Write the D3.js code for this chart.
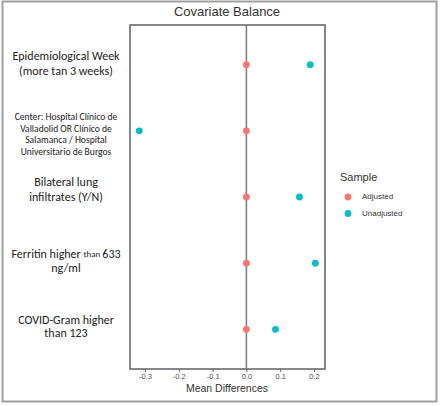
<!DOCTYPE html>
<html><head><meta charset="utf-8">
<script src="https://cdn.jsdelivr.net/npm/d3@7"></script>
<style>body{margin:0;background:#fff}svg{display:block}</style>
</head><body>
<script>
const covariates = ["Epidemiological Week", "Center", "Bilateral lung", "Ferritin", "COVID-Gram"];
const adjusted = [0.0, 0.0, 0.0, 0.0, 0.0];
const unadjusted = [0.189, -0.317, 0.157, 0.204, 0.086];
const xTicks = [-0.3, -0.2, -0.1, 0.0, 0.1, 0.2];
const sampleNames = ["Adjusted", "Unadjusted"];
const sampleColors = ["#F8766D", "#00BFC4"];

const W = 440, H = 406;
const svg = d3.select("body").append("svg").attr("width", W).attr("height", H);

// outer frame
svg.append("rect").attr("x", 2.5).attr("y", 1.5).attr("width", 434).attr("height", 400)
  .attr("fill", "#fff").attr("stroke", "#a0a0a0").attr("stroke-width", 2);

const px0 = 130, px1 = 325, py0 = 25, py1 = 369;
const x = d3.scaleLinear().domain([-0.3, 0.2]).range([145, 314]);
const y = d3.scalePoint().domain(covariates).range([py0, py1]).padding(0.6);

// zero line
svg.append("line").attr("x1", x(0)).attr("x2", x(0)).attr("y1", py0).attr("y2", py1)
  .attr("stroke", "#808080").attr("stroke-width", 1.6);

// panel border
svg.append("rect").attr("x", px0).attr("y", py0).attr("width", px1 - px0).attr("height", py1 - py0)
  .attr("fill", "none").attr("stroke", "#6a6a6a").attr("stroke-width", 1.6);

// x axis
const fmt = d3.format(".1f");
const xAxis = d3.axisBottom(x).tickValues(xTicks).tickSize(3).tickPadding(2)
  .tickFormat(d => fmt(d).replace("\u2212", "-"));
const gx = svg.append("g").attr("transform", `translate(0,${py1})`).call(xAxis);
gx.select(".domain").remove();
gx.selectAll(".tick line").attr("stroke", "#6a6a6a");
gx.selectAll(".tick text").attr("fill", "#4d4d4d").attr("font-family", "Liberation Sans, Arial, sans-serif").attr("font-size", 7.5);

// points
const rows = covariates.map((c, i) => ({c, a: adjusted[i], u: unadjusted[i]}));
svg.selectAll("circle.u").data(rows).join("circle").attr("class", "u")
  .attr("cx", d => x(d.u)).attr("cy", d => y(d.c)).attr("r", 3.4).attr("fill", sampleColors[1]);
svg.selectAll("circle.a").data(rows).join("circle").attr("class", "a")
  .attr("cx", d => x(d.a)).attr("cy", d => y(d.c)).attr("r", 3.4).attr("fill", sampleColors[0]);

// y labels
const lf = "Carlito, Lato, 'Open Sans', sans-serif";
const cx = 66;
function lines(parts, ys, size) {
  parts.forEach((p, i) => {
    const t = svg.append("text").attr("x", cx).attr("y", ys[i]).attr("text-anchor", "middle")
      .attr("dominant-baseline", "middle").attr("font-family", lf).attr("font-size", size).attr("fill", "#222");
    if (Array.isArray(p)) {
      p.forEach(seg => t.append("tspan").attr("font-size", seg[1]).text(seg[0]));
    } else t.text(p);
  });
}
const yc = covariates.map(c => y(c));
lines(["Epidemiological Week", "(more tan 3 weeks)"], [yc[0] - 8, yc[0] + 7], 12);
lines(["Center: Hospital Clínico de", "Valladolid OR Clínico de", "Salamanca / Hospital", "Universitario de Burgos"],
  [yc[1] - 13, yc[1] - 1.5, yc[1] + 10, yc[1] + 21.5], 9.6);
lines(["Bilateral lung", "infiltrates (Y/N)"], [yc[2] - 14, yc[2] + 1], 12);
lines([[["Ferritin higher ", 12], ["than ", 9], ["633", 12]], "ng/ml"], [yc[3] - 8, yc[3] + 6], 12);
lines(["COVID-Gram higher", "than 123"], [yc[4] - 8, yc[4] + 5], 12);

// title
svg.append("text").attr("x", 227).attr("y", 13).attr("text-anchor", "middle").attr("dominant-baseline", "middle")
  .attr("font-family", "Liberation Sans, Arial, sans-serif").attr("font-size", 13).attr("fill", "#333").text("Covariate Balance");
// x title
svg.append("text").attr("x", 227).attr("y", 389.5).attr("text-anchor", "middle").attr("dominant-baseline", "middle")
  .attr("font-family", "Liberation Sans, Arial, sans-serif").attr("font-size", 10.5).attr("fill", "#333").text("Mean Differences");

// legend
svg.append("text").attr("x", 340).attr("y", 178).attr("dominant-baseline", "middle")
  .attr("font-family", "Liberation Sans, Arial, sans-serif").attr("font-size", 11).attr("fill", "#333").text("Sample");
const lg = svg.selectAll("g.leg").data(sampleNames).join("g").attr("class", "leg")
  .attr("transform", (d, i) => `translate(348,${197 + i * 16.5})`);
lg.append("circle").attr("r", 3.4).attr("fill", (d, i) => sampleColors[i]);
lg.append("text").attr("x", 14).attr("dominant-baseline", "middle")
  .attr("font-family", "Liberation Sans, Arial, sans-serif").attr("font-size", 8).attr("fill", "#333").text(d => d);
</script>
</body></html>
